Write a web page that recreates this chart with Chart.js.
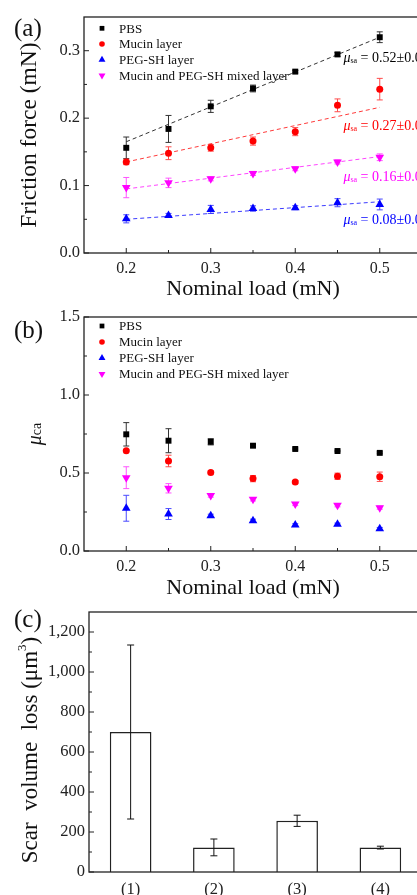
<!DOCTYPE html>
<html>
<head>
<meta charset="utf-8">
<script src="https://cdn.jsdelivr.net/npm/chart.js@4/dist/chart.umd.min.js"></script>
<style>
html, body { margin: 0; padding: 0; overflow: hidden; background: #fff; }
body { width: 417px; height: 895px; position: relative; font-family: "Liberation Serif", serif; }
canvas { position: absolute; left: 0; }
.tag { position: absolute; left: 14px; font-size: 25px; line-height: 25px; color: #111; }
</style>
</head>
<body>
<canvas id="chartA" width="440" height="302" style="top:0"></canvas>
<canvas id="chartB" width="440" height="300" style="top:302px"></canvas>
<canvas id="chartC" width="440" height="293" style="top:602px"></canvas>
<div class="tag" style="top:15px">(a)</div>
<div class="tag" style="top:317px">(b)</div>
<div class="tag" style="top:606px">(c)</div>
<script>
// shared
const loads = [0.2, 0.25, 0.3, 0.35, 0.4, 0.45, 0.5];
const seriesNames = ['PBS', 'Mucin layer', 'PEG-SH layer', 'Mucin and PEG-SH mixed layer'];
const loadTicks = [0.2, 0.3, 0.4, 0.5];

// (a) friction force, mN
const forcePBS = [0.156, 0.184, 0.2175, 0.244, 0.269, 0.2945, 0.320];
const forcePBSErr = [0.016, 0.020, 0.009, 0.005, 0.002, 0.003, 0.008];
const forceMucin = [0.135, 0.148, 0.156, 0.166, 0.180, 0.219, 0.243];
const forceMucinErr = [0.004, 0.0095, 0.005, 0.006, 0.006, 0.0095, 0.016];
const forcePEG = [0.0507, 0.0557, 0.0646, 0.066, 0.0672, 0.0746, 0.072];
const forcePEGErr = [0.006, 0.003, 0.006, 0.004, 0.003, 0.006, 0.008];
const forceMixed = [0.097, 0.104, 0.110, 0.118, 0.125, 0.135, 0.142];
const forceMixedErr = [0.015, 0.007, 0.003, 0.003, 0.003, 0.003, 0.005];
const fitLoads = [0.2, 0.5];
const fitPBS = [0.165, 0.320];
const fitMucin = [0.135, 0.216];
const fitPEG = [0.050, 0.076];
const fitMixed = [0.095, 0.143];
// slope labels, top to bottom: PBS, mucin, mixed, PEG-SH
const slopeTexts = ['0.52±0.02', '0.27±0.03', '0.16±0.01', '0.08±0.01'];
const slopeSeries = [0, 1, 3, 2];
const forceTicks = [0, 0.1, 0.2, 0.3];

// (b) coefficient of friction
const coefPBS = [0.748, 0.707, 0.700, 0.675, 0.654, 0.641, 0.629];
const coefPBSErr = [0.075, 0.077, 0.020, 0.008, 0.006, 0.005, 0.006];
const coefMucin = [0.643, 0.577, 0.504, 0.464, 0.442, 0.479, 0.476];
const coefMucinErr = [0.005, 0.037, 0.010, 0.020, 0.010, 0.020, 0.030];
const coefPEG = [0.274, 0.237, 0.226, 0.194, 0.167, 0.171, 0.143];
const coefPEGErr = [0.083, 0.035, 0.010, 0.010, 0.008, 0.008, 0.008];
const coefMixed = [0.470, 0.402, 0.355, 0.331, 0.301, 0.293, 0.278];
const coefMixedErr = [0.070, 0.030, 0.010, 0.010, 0.010, 0.010, 0.010];
const coefTicks = [0, 0.5, 1.0, 1.5];

// (c) scar volume loss, um^3
const groups = ['(1)', '(2)', '(3)', '(4)'];
const scarLoss = [700, 123, 256, 122];
const scarErr = [435, 42, 28, 7];
const scarTicks = [0, 200, 400, 600, 800, 1000, 1200];

const FONT = '"Liberation Serif", "Times New Roman", serif';
const looks = [
  { color: '#000000', err: '#333333', line: '#333333', style: 'rect', r: 4.2, rot: 0 },
  { color: '#ff0000', err: '#ff4a4a', line: '#ff3a3a', style: 'circle', r: 3.5, rot: 0 },
  { color: '#0000ff', err: '#4a4aff', line: '#3a3aff', style: 'triangle', r: 5, rot: 0 },
  { color: '#ff00ff', err: '#ff55ff', line: '#ff44ff', style: 'triangle', r: 5, rot: 180 }
];

const errorBars = {
  id: 'errorBars',
  draw(chart, after) {
    const { ctx } = chart;
    const ys = chart.scales.y;
    chart.data.datasets.forEach((ds, di) => {
      if (!ds.errors || !!ds.errAfter !== after) return;
      const meta = chart.getDatasetMeta(di);
      ctx.save();
      ctx.strokeStyle = ds.errColor;
      ctx.lineWidth = ds.errWidth || 1;
      meta.data.forEach((el, k) => {
        const v = typeof ds.data[k] === 'number' ? ds.data[k] : ds.data[k].y;
        const top = ys.getPixelForValue(v + ds.errors[k]);
        const bot = ys.getPixelForValue(v - ds.errors[k]);
        const c = ds.capHalf || 3;
        ctx.beginPath();
        ctx.moveTo(el.x, top); ctx.lineTo(el.x, bot);
        ctx.moveTo(el.x - c, top); ctx.lineTo(el.x + c, top);
        ctx.moveTo(el.x - c, bot); ctx.lineTo(el.x + c, bot);
        ctx.stroke();
      });
      ctx.restore();
    });
  },
  beforeDatasetsDraw(chart) { this.draw(chart, false); },
  afterDatasetsDraw(chart) { this.draw(chart, true); }
};

// axis frame with inward ticks, Origin style
const frame = {
  id: 'frame',
  afterDraw(chart, args, opts) {
    const { ctx, chartArea: a, scales } = chart;
    ctx.save();
    ctx.strokeStyle = '#222';
    ctx.lineWidth = 1.3;
    ctx.strokeRect(a.left, a.top, a.right - a.left, a.bottom - a.top);
    ctx.lineWidth = 1;
    const marks = (sc, vertical) => {
      const vals = sc.ticks.map(t => t.value);
      const step = vals[1] - vals[0];
      const put = (v, len) => {
        const p = sc.getPixelForValue(v);
        ctx.beginPath();
        if (vertical) { ctx.moveTo(a.left, p); ctx.lineTo(a.left + len, p); }
        else { ctx.moveTo(p, a.bottom); ctx.lineTo(p, a.bottom - len); }
        ctx.stroke();
      };
      vals.forEach(v => put(v, 5));
      for (let v = vals[0] - step / 2; v < sc.max; v += step) {
        if (v > sc.min + 1e-9 && v < sc.max - 1e-9) put(v, 3);
      }
    };
    marks(scales.y, true);
    if (opts.xTicks) marks(scales.x, false);
    ctx.restore();
  }
};

const innerLegend = {
  id: 'innerLegend',
  afterDraw(chart, args, opts) {
    if (!opts.show) return;
    const { ctx, chartArea: a } = chart;
    ctx.save();
    ctx.font = '13px ' + FONT;
    ctx.textBaseline = 'middle';
    seriesNames.forEach((name, i) => {
      const lk = looks[i];
      const y = a.top + opts.dy + i * opts.gap;
      ctx.fillStyle = lk.color;
      Chart.helpers.drawPoint(ctx, { pointStyle: lk.style, radius: lk.r * 0.8, rotation: lk.rot, borderWidth: 0 }, a.left + 18, y);
      ctx.fillStyle = '#111';
      ctx.fillText(name, a.left + 35, y + 1);
    });
    ctx.restore();
  }
};

const muNotes = {
  id: 'muNotes',
  afterDatasetsDraw(chart, args, opts) {
    if (!opts.texts) return;
    const { ctx, scales } = chart;
    ctx.save();
    ctx.textBaseline = 'alphabetic';
    opts.texts.forEach((t, i) => {
      let px = scales.x.getPixelForValue(opts.x);
      const py = scales.y.getPixelForValue(opts.y[i]);
      ctx.fillStyle = looks[slopeSeries[i]].color;
      ctx.font = 'italic 14px ' + FONT;
      ctx.fillText('μ', px, py);
      px += ctx.measureText('μ').width;
      ctx.font = '8px ' + FONT;
      ctx.fillText('sa', px, py + 1);
      px += ctx.measureText('sa').width;
      ctx.font = '14px ' + FONT;
      ctx.fillText(' = ' + t, px, py);
    });
    ctx.restore();
  }
};

// rotated y titles drawn by hand (mixed fonts, shifted centre)
const sideTitle = {
  id: 'sideTitle',
  afterDraw(chart, args, opts) {
    if (!opts.parts) return;
    const { ctx, chartArea: a } = chart;
    ctx.save();
    ctx.translate(opts.x, (a.top + a.bottom) / 2 + (opts.dy || 0));
    ctx.rotate(-Math.PI / 2);
    ctx.fillStyle = '#111';
    ctx.textBaseline = 'middle';
    let total = 0;
    opts.parts.forEach(p => { ctx.font = p.font; total += ctx.measureText(p.text).width; });
    let px = -total / 2;
    opts.parts.forEach(p => {
      ctx.font = p.font;
      ctx.fillText(p.text, px, p.dy || 0);
      px += ctx.measureText(p.text).width;
    });
    ctx.restore();
  }
};

function pointSet(i, ys, errs) {
  const lk = looks[i];
  return {
    type: 'scatter', label: seriesNames[i],
    data: loads.map((x, k) => ({ x, y: ys[k] })),
    errors: errs, errColor: lk.err,
    pointStyle: lk.style, pointRadius: lk.r, pointRotation: lk.rot,
    backgroundColor: lk.color, borderColor: lk.color, borderWidth: 0,
    showLine: false, order: 0
  };
}
function fitSet(i, ys) {
  return {
    type: 'line', data: fitLoads.map((x, k) => ({ x, y: ys[k] })),
    borderColor: looks[i].line, borderWidth: 1, borderDash: [4, 3],
    pointRadius: 0, fill: false, order: 1
  };
}

function loadAxis(h, padBottom) {
  return {
    type: 'linear', min: 0.15, max: 0.55,
    afterBuildTicks: s => { s.ticks = loadTicks.map(v => ({ value: v })); },
    afterFit: s => { s.height = h; s.paddingLeft = 0; s.paddingRight = 0; },
    grid: { display: false, drawTicks: false },
    border: { display: false },
    ticks: { padding: 6, color: '#222', font: { family: FONT, size: 16 }, callback: v => v.toFixed(1) },
    title: { display: true, text: 'Nominal load (mN)', color: '#111', font: { family: FONT, size: 22 }, padding: { top: 0, bottom: padBottom } }
  };
}
function valueAxis(min, max, ticks, width, fmt) {
  return {
    type: 'linear', min, max,
    afterBuildTicks: s => { s.ticks = ticks.map(v => ({ value: v })); },
    afterFit: s => { s.width = width; s.paddingTop = 0; s.paddingBottom = 0; },
    grid: { display: false, drawTicks: false },
    border: { display: false },
    ticks: { padding: 4, color: '#222', font: { family: FONT, size: 16.5 }, callback: fmt },
    title: { display: false }
  };
}

const common = {
  responsive: false, animation: false,
  plugins: { legend: { display: false }, tooltip: { enabled: false } }
};

new Chart(document.getElementById('chartA'), {
  type: 'scatter',
  data: {
    datasets: [
      pointSet(0, forcePBS, forcePBSErr), pointSet(1, forceMucin, forceMucinErr),
      pointSet(2, forcePEG, forcePEGErr), pointSet(3, forceMixed, forceMixedErr),
      fitSet(0, fitPBS), fitSet(1, fitMucin), fitSet(2, fitPEG), fitSet(3, fitMixed)
    ]
  },
  options: {
    ...common,
    layout: { padding: { top: 17, right: 18, left: 0, bottom: 0 } },
    scales: {
      x: loadAxis(49, 0),
      y: valueAxis(0, 0.35, forceTicks, 84, v => v.toFixed(1))
    },
    plugins: {
      ...common.plugins,
      frame: { xTicks: true },
      innerLegend: { show: true, dy: 11.3, gap: 15.7 },
      muNotes: { texts: slopeTexts, x: 0.457, y: [0.284, 0.1825, 0.1064, 0.0423] },
      sideTitle: { x: 30, dy: 0, parts: [{ text: 'Friction force (mN)', font: '23.5px ' + FONT }] }
    }
  },
  plugins: [errorBars, frame, innerLegend, muNotes, sideTitle]
});

new Chart(document.getElementById('chartB'), {
  type: 'scatter',
  data: {
    datasets: [
      pointSet(0, coefPBS, coefPBSErr), pointSet(1, coefMucin, coefMucinErr),
      pointSet(2, coefPEG, coefPEGErr), pointSet(3, coefMixed, coefMixedErr)
    ]
  },
  options: {
    ...common,
    layout: { padding: { top: 15, right: 18, left: 0, bottom: 0 } },
    scales: {
      x: loadAxis(51, 1),
      y: valueAxis(0, 1.5, coefTicks, 84, v => v.toFixed(1))
    },
    plugins: {
      ...common.plugins,
      frame: { xTicks: true },
      innerLegend: { show: true, dy: 9, gap: 16 },
      sideTitle: { x: 36, dy: 0, parts: [
        { text: 'μ', font: 'italic 20px ' + FONT, dy: 0 },
        { text: 'ca', font: '14px ' + FONT, dy: 1 }
      ] }
    }
  },
  plugins: [errorBars, frame, innerLegend, sideTitle]
});

new Chart(document.getElementById('chartC'), {
  type: 'bar',
  data: {
    labels: groups,
    datasets: [{
      data: scarLoss, errors: scarErr, errColor: '#111', errAfter: true, capHalf: 3.5,
      backgroundColor: '#ffffff', borderColor: '#222', borderWidth: 1.5,
      categoryPercentage: 1, barPercentage: 0.5
    }]
  },
  options: {
    ...common,
    layout: { padding: { top: 10, right: 18, left: 0, bottom: 0 } },
    scales: {
      x: {
        afterFit: s => { s.height = 23; s.paddingLeft = 0; s.paddingRight = 0; },
        grid: { display: false, drawTicks: false },
        border: { display: false },
        ticks: { padding: 8, color: '#222', font: { family: FONT, size: 16.5 } }
      },
      y: valueAxis(0, 1300, scarTicks, 89, v => v.toLocaleString('en-US'))
    },
    plugins: {
      ...common.plugins,
      frame: { xTicks: false },
      sideTitle: { x: 31, dy: 8, parts: [
        { text: 'Scar  volume  loss (μm', font: '23px ' + FONT, dy: 0 },
        { text: '3', font: '13px ' + FONT, dy: -8 },
        { text: ')', font: '23px ' + FONT, dy: 0 }
      ] }
    }
  },
  plugins: [errorBars, frame, sideTitle]
});
</script>
</body>
</html>
